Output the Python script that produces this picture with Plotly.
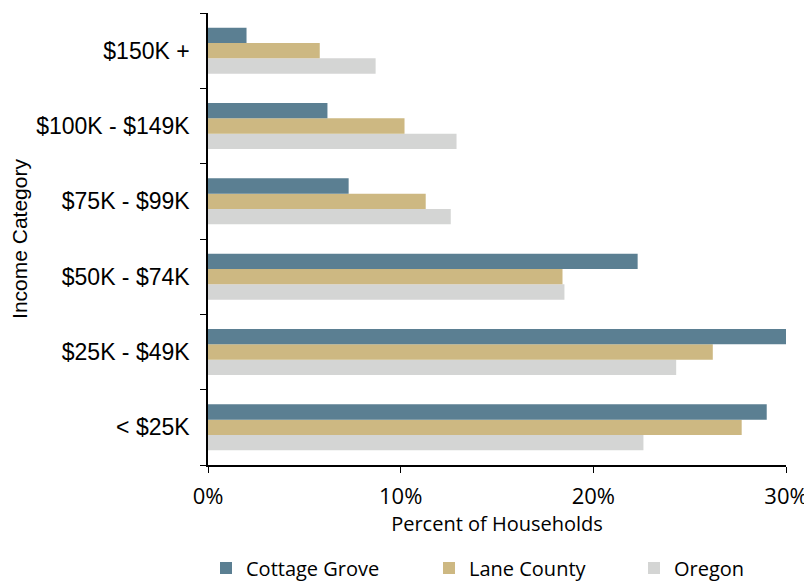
import plotly.graph_objects as go

categories = ["< $25K", "$25K - $49K", "$50K - $74K", "$75K - $99K", "$100K - $149K", "$150K +"]
cottage_grove = [0.290, 0.300, 0.223, 0.073, 0.062, 0.020]
lane_county = [0.277, 0.262, 0.184, 0.113, 0.102, 0.058]
oregon = [0.226, 0.243, 0.185, 0.126, 0.129, 0.087]
x_ticks = [0, 0.1, 0.2, 0.3]
x_tick_labels = ["0%", "10%", "20%", "30%"]

SANS = "Open Sans, Noto Sans, sans-serif"
ARIAL = "Liberation Sans, Arial, sans-serif"

# page body has an 8px margin, so the figure is sized 804x575
W, H = 804, 575

fig = go.Figure()
fig.add_trace(go.Bar(y=categories, x=oregon, name="Oregon", orientation="h",
                     legend="legend3",
                     marker=dict(color="#D4D5D4", line=dict(width=0))))
fig.add_trace(go.Bar(y=categories, x=lane_county, name="Lane County", orientation="h",
                     legend="legend2",
                     marker=dict(color="#CDB882", line=dict(width=0))))
fig.add_trace(go.Bar(y=categories, x=cottage_grove, name="Cottage Grove", orientation="h",
                     legend="legend",
                     marker=dict(color="#5B7F92", line=dict(width=0))))

def leg(xpix):
    return dict(orientation="h", x=xpix / W, xref="container", xanchor="left",
                y=15 / H, yref="container", yanchor="middle",
                font=dict(family=SANS, size=20), bgcolor="rgba(0,0,0,0)", itemwidth=30)

fig.update_layout(
    width=W, height=H,
    showlegend=True,
    margin=dict(l=200, r=26, t=5, b=118),
    paper_bgcolor="white", plot_bgcolor="white",
    barmode="group", bargap=0.39, bargroupgap=0,
    font=dict(family=SANS, size=20, color="black"),
    legend=leg(198),
    legend2=leg(421),
    legend3=leg(626),
    xaxis=dict(range=[0, 0.3], tickvals=x_ticks, ticktext=x_tick_labels,
               automargin=False, tickfont=dict(family=SANS, size=22),
               ticklabelstandoff=5,
               showgrid=False, zeroline=False, showline=True, linecolor="black",
               linewidth=1.5, ticks="outside", ticklen=6, tickcolor="black",
               title=dict(text="Percent of Households", font=dict(family=SANS, size=20),
                          standoff=8)),
    yaxis=dict(showgrid=False, zeroline=False, showline=True, linecolor="black",
               automargin=False, tickfont=dict(family=ARIAL, size=23),
               ticklabelstandoff=12,
               linewidth=1.5, ticks="outside", ticklen=6, tickcolor="black",
               tickson="boundaries", categoryorder="array", categoryarray=categories,
               title=dict(text="Income Category", font=dict(family=ARIAL, size=21),
                          standoff=5)),
)

fig.write_html("out.html")
